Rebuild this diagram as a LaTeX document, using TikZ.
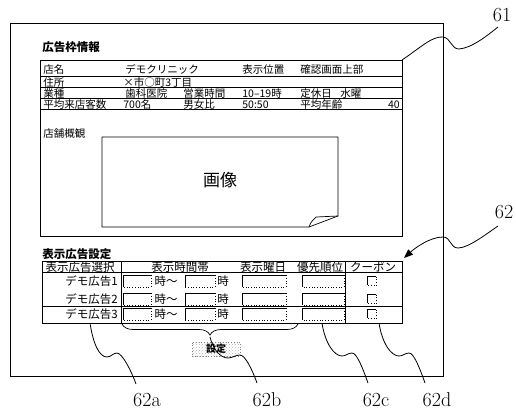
\documentclass[tikz,border=0pt]{standalone}
\usepackage{fontspec}
\newfontfamily\jp{Noto Sans CJK JP}
\usetikzlibrary{arrows.meta,decorations.pathreplacing,patterns}

\begin{document}
\begin{tikzpicture}[x=1pt,y=-1pt,line width=0.7pt,
  infotext/.style={font=\jp\fontsize{10.5}{10.5}\selectfont,inner sep=0pt,anchor=base west},
  settext/.style={font=\jp\fontsize{11.5}{11.5}\selectfont,inner sep=0pt},
  headtext/.style={font=\jp\bfseries\fontsize{11.5}{11.5}\selectfont,inner sep=0pt,anchor=west},
  field/.style={minimum height=11pt,inner sep=0pt},
  button/.style={draw=gray,dotted,pattern=crosshatch dots,pattern color=gray!60,
    minimum width=48pt,minimum height=14pt,inner sep=0pt,
    font=\jp\bfseries\fontsize{10}{10}\selectfont},
  refnum/.style={font=\fontsize{20}{20}\selectfont,inner sep=0pt},
  leader/.style={line width=0.8pt}]
  \useasboundingbox (0,0) rectangle (516,412);

  \draw (10,23) rectangle (443,376);

  \node[headtext] (t1) at (42,47) {広告枠情報};
  \coordinate (b1nw) at (40,60);
  \coordinate (b1ne) at (402,60);
  \draw (b1nw) rectangle (402,236);
  \foreach \y in {76,87,98,109}
    \draw (40,\y) -- (402,\y);

  \node[infotext] (n1a) at (43,74) {店名};
  \node[infotext] (n1b) at (125,74) {デモクリニック};
  \node[infotext] (n1c) at (242,74) {表示位置};
  \node[infotext] (n1d) at (300,74) {確認画面上部};
  \node[infotext] (n2a) at (43,86) {住所};
  \node[infotext] (n2b) at (123,86) {×市○町3丁目};
  \node[infotext] (n3a) at (43,97) {業種};
  \node[infotext] (n3b) at (125,97) {歯科医院};
  \node[infotext] (n3c) at (183,97) {営業時間};
  \node[infotext] (n3d) at (242,97) {10–19時};
  \node[infotext] (n3e) at (300,97) {定休日};
  \node[infotext] (n3f) at (340,97) {水曜};
  \node[infotext] (n4a) at (43,108) {平均来店客数};
  \node[infotext] (n4b) at (123,108) {700名};
  \node[infotext] (n4c) at (183,108) {男女比};
  \node[infotext] (n4d) at (242,108) {50:50};
  \node[infotext] (n4e) at (300,108) {平均年齢};
  \node[infotext,anchor=base east] (n4f) at (400,108) {40};

  \node[infotext] (sv) at (43,137) {店舗概観};
  \draw (102,137) -- (102,227) -- (309,227) -- (338,216) -- (338,137) -- cycle;
  \draw (309,227) .. controls (311,222) .. (316,217) -- (338,216);
  \node[font=\jp\fontsize{17}{17}\selectfont] (img) at (220,180) {画像};

  \node[headtext] (t2) at (42,254) {表示広告設定};
  \coordinate (t2ne) at (404,258);
  \draw (42,261) rectangle (402,323);
  \draw (42,272) -- (402,272);
  \draw (42,306) -- (402,306);
  \draw (121,261) -- (121,323);
  \draw (345,261) -- (345,323);

  \node[settext] (h1) at (80,267) {表示広告選択};
  \node[settext] (h2) at (180,267) {表示時間帯};
  \node[settext] (h3) at (263,267) {表示曜日};
  \node[settext] (h4) at (320,267) {優先順位};
  \node[settext] (h5) at (373,267) {クーポン};

  \foreach \r/\y in {1/281,2/299,3/314} {
    \node[settext,anchor=east] (sel\r) at (118,\y) {デモ広告\r};
    \node[field,minimum width=27pt] (ta\r) at (137,\y) {};
    \node[settext] (ja\r) at (166,\y) {時～};
    \node[field,minimum width=29pt] (tb\r) at (200,\y) {};
    \node[settext] (jb\r) at (223,\y) {時};
    \node[field,minimum width=43pt] (dy\r) at (264,\y) {};
    \node[field,minimum width=41pt] (pr\r) at (323,\y) {};
    \node[field,minimum width=8pt,minimum height=8pt] (cp\r) at (372,\y) {};
    \foreach \f in {ta,tb,dy,pr,cp} {
      \draw (\f\r.south west) |- (\f\r.north east);
      \draw[dotted] (\f\r.north east) |- (\f\r.south west);
    }
  }

  \draw[decorate,decoration={brace,mirror,amplitude=11pt}] (122,324) -- (298,324);
  \coordinate (bt) at (210,337);
  \node[button] (btn) at (216,349) {設定};

  \node[refnum] (l61) at (502,15) {61};
  \node[refnum] (l62) at (504,212) {62};
  \node[refnum] (l62a) at (147,400) {62a};
  \node[refnum] (l62b) at (267,400) {62b};
  \node[refnum] (l62c) at (376,400) {62c};
  \node[refnum] (l62d) at (437,400) {62d};
  \coordinate (e61) at (498,27);
  \coordinate (e62) at (498,226);
  \coordinate (s62a) at (90,323);
  \coordinate (e62a) at (136,384);
  \coordinate (e62b) at (257,383);
  \coordinate (s62c) at (322,323);
  \coordinate (e62c) at (368,383);
  \coordinate (s62d) at (379,323);
  \coordinate (e62d) at (425,383);

  \draw[leader] (b1ne) .. controls (420,48) and (432,36) .. (443,37)
    .. controls (451,38) and (451,49) .. (459,49) .. controls (472,48) and (488,35) .. (e61);
  \draw[leader,-{Triangle[length=9pt,width=7pt]}] (e62) .. controls (485,235) and (468,248) .. (458,248)
    .. controls (450,248) and (451,237) .. (443,237) .. controls (430,237) and (415,248) .. (t2ne);
  \draw[leader] (s62a) .. controls +(3,20) and +(-8,0) .. (107,357)
    .. controls +(4,0) and +(-4,0) .. (117,353) .. controls +(5,0) and +(-5,-14) .. (e62a);
  \draw[leader] (bt) .. controls +(3,12) and +(-8,0) .. (228,358)
    .. controls +(4,0) and +(-4,0) .. (240,355) .. controls +(5,0) and +(-5,-14) .. (e62b);
  \draw[leader] (s62c) .. controls +(3,20) and +(-8,0) .. (342,356)
    .. controls +(4,0) and +(-4,0) .. (352,353) .. controls +(5,0) and +(-5,-14) .. (e62c);
  \draw[leader] (s62d) .. controls +(3,20) and +(-8,0) .. (399,356)
    .. controls +(4,0) and +(-4,0) .. (409,353) .. controls +(5,0) and +(-5,-14) .. (e62d);
\end{tikzpicture}
\end{document}
